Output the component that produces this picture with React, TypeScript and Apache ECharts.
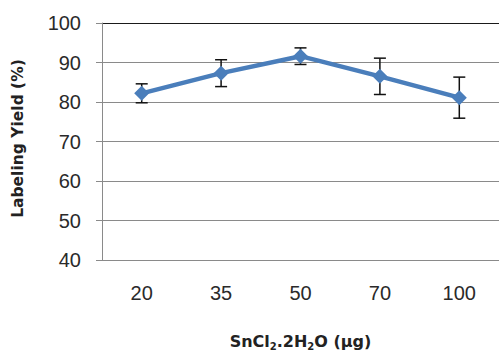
import React, { useEffect, useRef } from "react";
import * as echarts from "echarts";

const categories = ["20", "35", "50", "70", "100"];
const yieldValues = [82.2, 87.3, 91.6, 86.5, 81.1];
const errorValues = [2.4, 3.4, 2.1, 4.6, 5.2];
const yTicks = { min: 40, max: 100, interval: 10 };

export default function App() {
  const ref = useRef<HTMLDivElement>(null);
  useEffect(() => {
    if (!ref.current) return;
    const chart = echarts.init(ref.current, null, { renderer: "svg" });
    const errData = yieldValues.map((v, i) => [i, v - errorValues[i], v + errorValues[i]]);
    const lineColors = ["#8a8a8a", "#8a8a8a", "#8a8a8a", "#8a8a8a", "#8a8a8a", "#8a8a8a", "#1a1a1a"];
    const titleFont = "DejaVu Sans";
    chart.setOption({
      animation: false,
      backgroundColor: "#ffffff",
      grid: { left: 102, width: 400, top: 23, height: 245 },
      xAxis: {
        type: "category",
        data: categories,
        axisLine: { show: true, lineStyle: { color: "#8a8a8a", width: 1 } },
        axisTick: { show: false },
        axisLabel: { color: "#2a2a2a", fontSize: 20, fontFamily: "Liberation Sans", margin: 23 },
        name: "{a|SnCl}{s|2}{a|.2H}{s|2}{a|O (μg)}",
        nameLocation: "middle",
        nameGap: 72,
        nameTextStyle: {
          rich: {
            a: { fontSize: 16, fontWeight: "bold", fontFamily: titleFont, color: "#222" },
            s: { fontSize: 10, fontWeight: "bold", fontFamily: titleFont, color: "#222", verticalAlign: "bottom", padding: [9, 0, 0, 0] },
          },
        },
      },
      yAxis: {
        type: "value",
        min: yTicks.min,
        max: yTicks.max,
        interval: yTicks.interval,
        axisLine: { show: true, lineStyle: { color: "#8a8a8a", width: 1 } },
        axisTick: { show: true, length: 6, lineStyle: { color: "#8a8a8a" } },
        axisLabel: { color: "#2a2a2a", fontSize: 20, fontFamily: "Liberation Sans", margin: 21 },
        splitLine: { show: true, lineStyle: { color: lineColors, width: 1.2 } },
        name: "Labeling Yield (%)",
        nameLocation: "middle",
        nameGap: 76,
        nameTextStyle: { fontSize: 15.5, fontWeight: "bold", fontFamily: titleFont, color: "#222", padding: [0, 0, 0, 6] },
      },
      series: [
        {
          type: "custom",
          data: errData,
          z: 3,
          renderItem: (params: any, api: any) => {
            const x = api.value(0);
            const lo = api.coord([x, api.value(1)]);
            const hi = api.coord([x, api.value(2)]);
            const hw = 6;
            const style = { stroke: "#111", lineWidth: 1.5 };
            return {
              type: "group",
              children: [
                { type: "line", shape: { x1: lo[0], y1: lo[1], x2: hi[0], y2: hi[1] }, style },
                { type: "line", shape: { x1: lo[0] - hw, y1: lo[1], x2: lo[0] + hw, y2: lo[1] }, style },
                { type: "line", shape: { x1: hi[0] - hw, y1: hi[1], x2: hi[0] + hw, y2: hi[1] }, style },
              ],
            };
          },
        },
        {
          type: "line",
          data: yieldValues,
          z: 4,
          symbol: "diamond",
          symbolSize: 15,
          lineStyle: { color: "#4a7ebb", width: 4.5 },
          itemStyle: { color: "#4a7ebb" },
        },
      ],
    });
    return () => chart.dispose();
  }, []);
  return (
    <div
      ref={ref}
      style={{ position: "absolute", left: 0, top: 0, width: 499, height: 356, background: "#fff" }}
    />
  );
}
